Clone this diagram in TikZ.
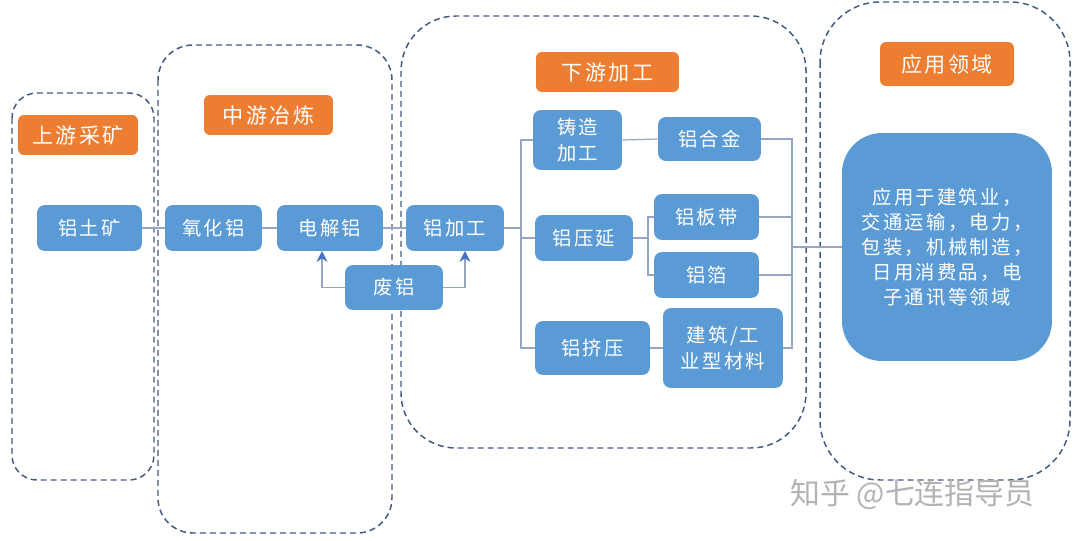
\documentclass[tikz,border=0pt]{standalone}
\usepackage{fontspec}
\newfontfamily\cjk[LetterSpace=12]{Noto Sans CJK SC}
\newfontfamily\cjkw{Noto Sans CJK SC}
\usetikzlibrary{arrows.meta}
\definecolor{boxblue}{RGB}{91,155,213}
\definecolor{lblorange}{RGB}{237,125,49}
\definecolor{dashcol}{RGB}{68,90,130}
\definecolor{linecol}{RGB}{150,165,195}
\definecolor{arrowcol}{RGB}{68,114,196}
\tikzset{
  box/.style={fill=boxblue, draw=none, rounded corners=0.16cm, text=white, align=center,
    font=\cjk\fontsize{11}{15}\selectfont, inner sep=0pt},
  lbl/.style={fill=lblorange, draw=none, rounded corners=0.12cm, text=white,
    font=\cjk\fontsize{12}{14}\selectfont, inner sep=0pt},
  stagebox/.style={draw=dashcol, line width=0.85pt, dash pattern=on 0.12cm off 0.08cm},
  conn/.style={draw=linecol, line width=0.7pt},
  arr/.style={conn, -{Stealth[length=2.2mm,width=2.2mm,color=arrowcol]}},
}
\begin{document}
\begin{tikzpicture}[x=0.02cm,y=-0.02cm]
\useasboundingbox (0,0) rectangle (1080,541);
% stage containers
\draw[stagebox, rounded corners=0.5cm] (12,93) rectangle (154,480);
\draw[stagebox, rounded corners=0.7cm] (158,45) rectangle (392,533);
\draw[stagebox, rounded corners=1.1cm] (401,16) rectangle (806,448);
\draw[stagebox, rounded corners=1.2cm] (820,2) rectangle (1070,480);
% stage labels
\node[lbl, minimum width=2.4cm, minimum height=0.8cm] (l1) at (78,135) {上游采矿};
\node[lbl, minimum width=2.58cm, minimum height=0.8cm] (l2) at (268.5,115) {中游冶炼};
\node[lbl, minimum width=2.86cm, minimum height=0.8cm] (l3) at (607.5,72) {下游加工};
\node[lbl, minimum width=2.68cm, minimum height=0.88cm] (l4) at (947,64) {应用领域};
% boxes
\node[box, minimum width=2.1cm, minimum height=0.92cm] (ltk) at (89.5,228) {铝土矿};
\node[box, minimum width=1.94cm, minimum height=0.92cm] (yhl) at (213.5,228) {氧化铝};
\node[box, minimum width=2.12cm, minimum height=0.92cm] (djl) at (330,228) {电解铝};
\node[box, minimum width=1.96cm, minimum height=0.9cm] (fl) at (394,287.5) {废铝};
\node[box, minimum width=1.96cm, minimum height=0.92cm] (ljg) at (455,228) {铝加工};
\node[box, minimum width=1.78cm, minimum height=1.2cm] (zz) at (577.5,140) {铸造\\加工};
\node[box, minimum width=2.06cm, minimum height=0.88cm] (lhj) at (709.5,139) {铝合金};
\node[box, minimum width=1.96cm, minimum height=0.92cm] (lyy) at (584,238) {铝压延};
\node[box, minimum width=2.1cm, minimum height=0.92cm] (lbd) at (706.5,217) {铝板带};
\node[box, minimum width=2.1cm, minimum height=0.92cm] (lb) at (706.5,275) {铝箔};
\node[box, minimum width=2.3cm, minimum height=1.08cm] (ljy) at (592.5,348) {铝挤压};
\node[box, minimum width=2.4cm, minimum height=1.6cm] (jz) at (723,348) {建筑/工\\业型材料};
\node[box, rounded corners=0.8cm, minimum width=4.2cm, minimum height=4.56cm,
  font=\cjk\fontsize{11}{14.2}\selectfont] (app) at (947,247)
  {应用于建筑业，\\交通运输，电力，\\包装，机械制造，\\日用消费品，电\\子通讯等领域};
% connectors
\draw[conn] (ltk) -- (yhl);
\draw[conn] (yhl) -- (djl);
\draw[conn] (djl) -- (ljg);
\coordinate (fa) at (322,251);
\coordinate (fb) at (465,251);
\draw[arr] (fl.west) -| (fa);
\draw[arr] (fl.east) -| (fb);
\coordinate (b1) at (521,228);
\draw[conn] (ljg.east) -- (b1);
\draw[conn] (zz.west) -- (zz.west -| b1) -- (b1 |- ljy.west) -- (ljy.west);
\draw[conn] (lyy.west -| b1) -- (lyy.west);
\draw[conn] (zz.east) -- (lhj.west);
\coordinate (b2) at (648,238);
\draw[conn] (lyy.east) -- (b2);
\draw[conn] (lbd.west) -- (lbd.west -| b2) -- (b2 |- lb.west) -- (lb.west);
\draw[conn] (ljy.east) -- (jz.west);
\coordinate (b3) at (792,247);
\draw[conn] (lhj.east) -- (lhj.east -| b3) -- (b3 |- jz.east) -- (jz.east);
\draw[conn] (lbd.east) -- (lbd.east -| b3);
\draw[conn] (lb.east) -- (lb.east -| b3);
\draw[conn] (b3) -- (app.west);
% watermark
\node[anchor=west, text=black!30, font=\cjkw\fontsize{17}{20}\selectfont, inner sep=0pt] (wm) at (790,495) {知乎 @七连指导员};
\end{tikzpicture}
\end{document}
